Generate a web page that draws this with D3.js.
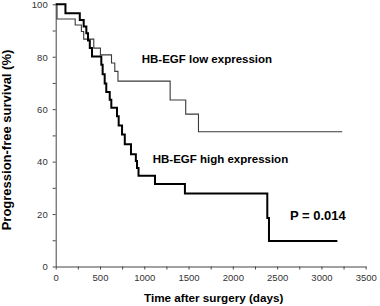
<!DOCTYPE html>
<html>
<head>
<meta charset="utf-8">
<script src="https://cdn.jsdelivr.net/npm/d3@7"></script>
<style>
  body { margin: 0; background: #fff; }
  svg { display: block; font-family: "Liberation Sans", Arial, sans-serif; }
</style>
</head>
<body>
<div id="chart"></div>
<script>

// Kaplan-Meier steps (days, survival %)
let lowDays = [0, 15, 220, 290, 316, 430, 505, 630, 667, 703, 1292, 1468, 1612, 3235];
let lowSurv = [100, 94.4, 92.1, 89.6, 86.7, 83.3, 80.7, 77.6, 74.4, 70.7, 63.5, 58.1, 51.4, 51.4];

let highDays = [0, 110, 272, 316, 346, 365, 385, 410, 515, 530, 553, 571, 610, 628, 692, 711, 749, 780, 850, 905, 918, 935, 1121, 1459, 2389, 2408, 3180];
let highSurv = [100, 96.6, 94.0, 91.5, 89.0, 86.2, 83.3, 80.1, 76.9, 73.3, 69.8, 66.6, 63.6, 60.5, 57.3, 53.8, 50.3, 46.6, 42.8, 40.2, 37.6, 34.6, 31.5, 27.8, 18.5, 9.7, 9.7];

let xMajor = [0, 500, 1000, 1500, 2000, 2500, 3000, 3500];
let yMajor = [0, 20, 40, 60, 80, 100];

let margin = { top: 4.3, right: 14.3, bottom: 39.5, left: 55.7 };
let width = 380 - margin.left - margin.right;
let height = 306 - margin.top - margin.bottom;

let x = d3.scaleLinear().domain([0, 3500]).range([0, width]);
let y = d3.scaleLinear().domain([0, 100]).range([height, 0]);

let svg = d3.select("#chart")
  .append("svg")
    .attr("width", 380)
    .attr("height", 306)
  .append("g")
    .attr("transform", `translate(${margin.left},${margin.top})`);

// axes: labelled ticks plus unlabelled minor ticks in between

let xTicks = d3.range(0, 3501, 250);
let yTicks = d3.range(0, 101, 10);

let xAxis = svg.append("g")
  .attr("transform", `translate(0,${height})`)
  .call(d3.axisBottom(x)
    .tickValues(xTicks)
    .tickSize(3)
    .tickPadding(2)
    .tickSizeOuter(0)
    .tickFormat(d => xMajor.includes(d) ? d : ""));

let yAxis = svg.append("g")
  .call(d3.axisLeft(y)
    .tickValues(yTicks)
    .tickSize(3)
    .tickPadding(5)
    .tickSizeOuter(0)
    .tickFormat(d => yMajor.includes(d) ? d : ""));

[xAxis, yAxis].forEach(g => {
  g.select(".domain").attr("stroke", "#444").attr("stroke-width", 1);
  g.selectAll(".tick line").attr("stroke", "#444");
  g.selectAll(".tick text")
    .style("font-size", "9.5px")
    .style("font-family", "Liberation Sans, Arial, sans-serif")
    .attr("fill", "#333");
});

xAxis.selectAll(".tick text").attr("dy", "0.95em");
yAxis.selectAll(".tick text").attr("dy", "0.35em");

// survival curves

let line = d3.line()
  .x(d => x(d[0]))
  .y(d => y(d[1]))
  .curve(d3.curveStepAfter);

svg.append("path")
  .datum(d3.zip(lowDays, lowSurv))
  .attr("fill", "none")
  .attr("stroke", "#3a3a3a")
  .attr("stroke-width", 1.1)
  .attr("d", line);

svg.append("path")
  .datum(d3.zip(highDays, highSurv))
  .attr("fill", "none")
  .attr("stroke", "#000")
  .attr("stroke-width", 2)
  .attr("d", line);

// annotations

svg.append("text")
  .attr("x", 141.7 - margin.left)
  .attr("y", 63.5 - margin.top)
  .style("font-size", "11.5px")
  .style("font-weight", "bold")
  .text("HB-EGF low expression");

svg.append("text")
  .attr("x", 152.7 - margin.left)
  .attr("y", 163.3 - margin.top)
  .style("font-size", "11.5px")
  .style("font-weight", "bold")
  .text("HB-EGF high expression");

svg.append("text")
  .attr("x", 290 - margin.left)
  .attr("y", 220 - margin.top)
  .style("font-size", "13px")
  .style("font-weight", "bold")
  .text("P = 0.014");

// axis titles

svg.append("text")
  .attr("text-anchor", "middle")
  .attr("x", 213.7 - margin.left)
  .attr("y", 302.5 - margin.top)
  .style("font-size", "11.7px")
  .style("font-weight", "bold")
  .text("Time after surgery (days)");

svg.append("text")
  .attr("transform", `translate(${11 - margin.left},${140 - margin.top}) rotate(-90)`)
  .attr("text-anchor", "middle")
  .style("font-size", "13px")
  .style("font-weight", "bold")
  .text("Progression-free survival (%)");

</script>
</body>
</html>
